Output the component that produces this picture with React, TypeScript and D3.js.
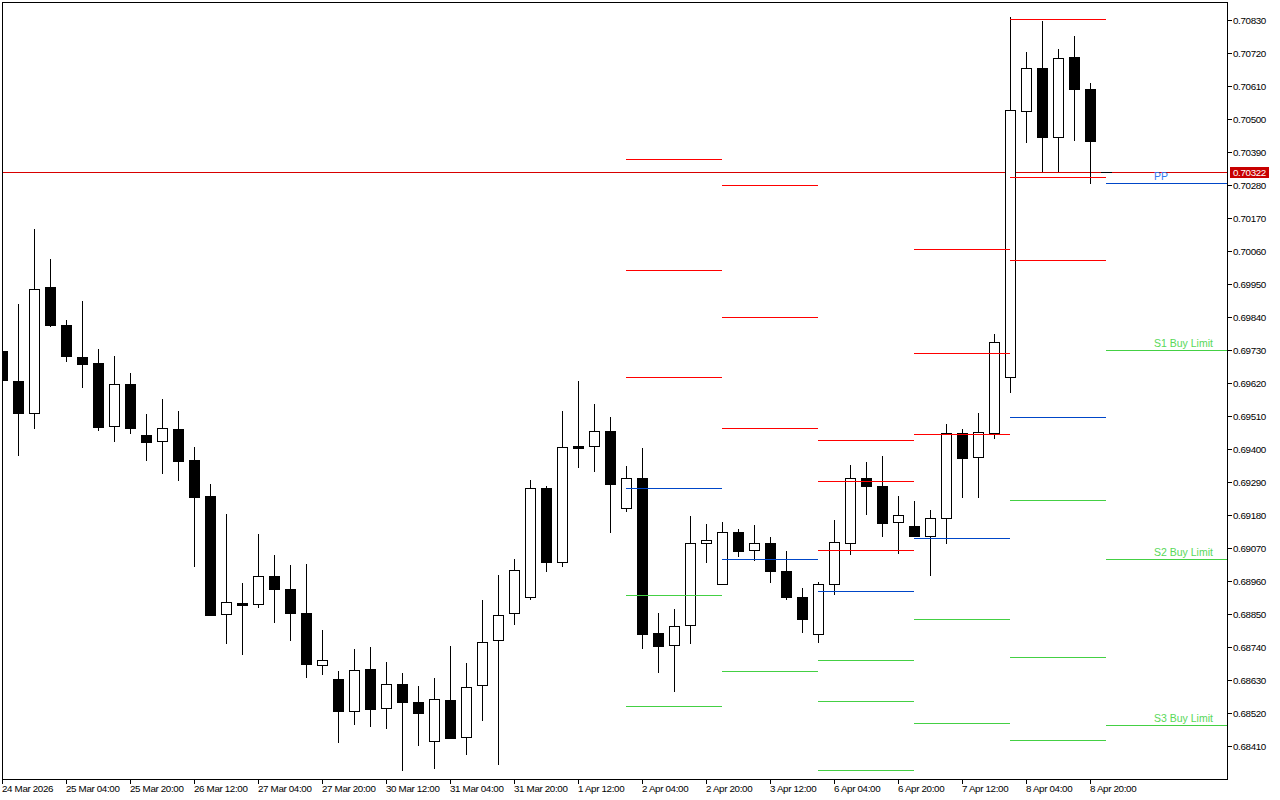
import { useEffect, useRef } from "react";
import * as d3 from "d3";

const opens = [
  0.69727, 0.69627, 0.69517, 0.6994, 0.69813, 0.69707, 0.69687, 0.69473, 0.69617, 0.69447,
  0.69423, 0.69467, 0.69363, 0.69243, 0.68847, 0.68887, 0.6888, 0.68977, 0.68933, 0.68853,
  0.68677, 0.68633, 0.68523, 0.68667, 0.68533, 0.68617, 0.68557, 0.68423, 0.68563, 0.68437,
  0.6861, 0.6876, 0.6885, 0.68903, 0.6927, 0.6902, 0.6941, 0.69407, 0.6946, 0.692,
  0.69303, 0.68787, 0.68743, 0.6881, 0.69083, 0.68947, 0.69123, 0.6906, 0.69087, 0.68993,
  0.68907, 0.6878, 0.68947, 0.69083, 0.69303, 0.69277, 0.69153, 0.69143, 0.69107, 0.69167,
  0.69453, 0.6937, 0.6945, 0.69637, 0.70523, 0.7067, 0.70437, 0.70707, 0.706, 0.70322,
];
const highs = [
  0.69763, 0.69883, 0.70133, 0.70033, 0.6983, 0.69893, 0.69733, 0.6971, 0.69653, 0.69517,
  0.69567, 0.69527, 0.69407, 0.69283, 0.69183, 0.68953, 0.69117, 0.69047, 0.69013, 0.69017,
  0.68797, 0.6866, 0.68733, 0.6874, 0.6869, 0.68653, 0.6861, 0.68637, 0.68743, 0.68687,
  0.68897, 0.6898, 0.69033, 0.69297, 0.69277, 0.69527, 0.69627, 0.6955, 0.69507, 0.69343,
  0.69403, 0.68853, 0.68867, 0.69177, 0.6915, 0.69157, 0.69133, 0.69147, 0.69107, 0.6906,
  0.68937, 0.68957, 0.69163, 0.69347, 0.69357, 0.69377, 0.69243, 0.69227, 0.69197, 0.69483,
  0.69467, 0.6952, 0.69783, 0.7084, 0.70723, 0.70827, 0.70733, 0.70777, 0.7062, 0.70322,
];
const lows = [
  0.6958, 0.69377, 0.69467, 0.69807, 0.6969, 0.69603, 0.6946, 0.69423, 0.6945, 0.6936,
  0.69317, 0.69293, 0.69007, 0.68843, 0.6875, 0.68713, 0.6887, 0.6882, 0.6876, 0.68637,
  0.68647, 0.6842, 0.6848, 0.68473, 0.68467, 0.68327, 0.6841, 0.68333, 0.68433, 0.6838,
  0.68493, 0.68347, 0.68813, 0.68897, 0.6899, 0.69007, 0.69337, 0.69323, 0.6912, 0.6919,
  0.68733, 0.68653, 0.6859, 0.6875, 0.6902, 0.68947, 0.6904, 0.69027, 0.68953, 0.68897,
  0.68787, 0.68753, 0.68913, 0.69047, 0.6918, 0.69107, 0.6905, 0.69107, 0.68977, 0.69083,
  0.69237, 0.69237, 0.69433, 0.69587, 0.7042, 0.70323, 0.70323, 0.70427, 0.70283, 0.70322,
];
const closes = [
  0.69627, 0.69517, 0.69933, 0.6981, 0.69707, 0.6968, 0.6947, 0.69617, 0.69467, 0.6942,
  0.6947, 0.69357, 0.69237, 0.68843, 0.6889, 0.68877, 0.68977, 0.6893, 0.6885, 0.6868,
  0.68697, 0.68523, 0.68663, 0.6853, 0.68617, 0.68553, 0.68517, 0.68567, 0.68433, 0.68607,
  0.68757, 0.68847, 0.68997, 0.6927, 0.6902, 0.69407, 0.694, 0.6946, 0.6928, 0.69303,
  0.6878, 0.6874, 0.6881, 0.69087, 0.69097, 0.69123, 0.69057, 0.69087, 0.6899, 0.68903,
  0.6883, 0.6895, 0.6909, 0.69303, 0.69273, 0.6915, 0.6918, 0.69107, 0.6917, 0.69453,
  0.69367, 0.69457, 0.69757, 0.7053, 0.7067, 0.70437, 0.70703, 0.70597, 0.70423, 0.70322,
];

// pivot levels, one entry per trading day
const dayStarts = [39, 45, 51, 57, 63, 69];
const r3 = [0.70367, 0.7028, 0.6943, 0.70067, 0.70833, null];
const r2 = [0.69997, 0.6984, 0.69293, 0.6972, 0.70307, null];
const r1 = [0.6964, 0.6947, 0.69063, 0.6945, 0.7003, null];
const pp = [0.6927, 0.69033, 0.68927, 0.69103, 0.69507, 0.70287];
const s1 = [0.68913, 0.6866, 0.68697, 0.68833, 0.6923, 0.6973];
const s2 = [0.68543, null, 0.6856, 0.68487, 0.68707, 0.69033];
const s3 = [null, null, 0.6833, null, 0.6843, 0.6848];

const bid = 0.70322;

const priceTicks = [
  0.7083, 0.7072, 0.7061, 0.705, 0.7039, 0.7028, 0.7017, 0.7006, 0.6995, 0.6984, 0.6973, 0.6962,
  0.6951, 0.694, 0.6929, 0.6918, 0.6907, 0.6896, 0.6885, 0.6874, 0.6863, 0.6852, 0.6841,
];
const timeTicks = [0, 4, 8, 12, 16, 20, 24, 28, 32, 36, 40, 44, 48, 52, 56, 60, 64, 68];
const timeLabels = [
  "24 Mar 2026", "25 Mar 04:00", "25 Mar 20:00", "26 Mar 12:00", "27 Mar 04:00", "27 Mar 20:00",
  "30 Mar 12:00", "31 Mar 04:00", "31 Mar 20:00", "1 Apr 12:00", "2 Apr 04:00", "2 Apr 20:00",
  "3 Apr 12:00", "6 Apr 04:00", "6 Apr 20:00", "7 Apr 12:00", "8 Apr 04:00", "8 Apr 20:00",
];

const lastDayLabels = [
  { text: "PP", level: pp[5], color: "#2f7bf0" },
  { text: "S1 Buy Limit", level: s1[5], color: "#58d858" },
  { text: "S2 Buy Limit", level: s2[5], color: "#58d858" },
  { text: "S3 Buy Limit", level: s3[5], color: "#58d858" },
];

const RED = "#ff0000";
const BLUE = "#0046c8";
const GREEN = "#44d044";
const FONT = "'Liberation Sans', Arial, sans-serif";

const App = () => {
  const ref = useRef<SVGSVGElement>(null);

  useEffect(() => {
    if (!ref.current) return;

    const left = 2;
    const right = 1227;
    const top = 2;
    const bottom = 779;

    const svg = d3.select(ref.current);
    svg.selectAll("*").remove();

    const x = d3.scaleLinear().domain([0, 69]).range([2, 1106]);
    const y = d3.scaleLinear().domain([0.7083, 0.6841]).range([20, 746]);
    const row = (p: number) => Math.round(y(p));

    svg.append("clipPath").attr("id", "plot")
      .append("rect")
      .attr("x", left).attr("y", top)
      .attr("width", right - left).attr("height", bottom - top);

    const plot = svg.append("g").attr("clip-path", "url(#plot)");

    // bid line sits behind the candles
    plot.append("line")
      .attr("x1", left).attr("x2", right)
      .attr("y1", row(bid) + 0.5).attr("y2", row(bid) + 0.5)
      .attr("stroke", "#d80000")
      .attr("shape-rendering", "crispEdges");

    const candles = plot.selectAll("g.candle")
      .data(d3.range(opens.length))
      .join("g")
      .attr("class", "candle")
      .attr("shape-rendering", "crispEdges");

    candles.append("line")
      .attr("x1", i => x(i) + 0.5).attr("x2", i => x(i) + 0.5)
      .attr("y1", i => row(highs[i])).attr("y2", i => row(lows[i]))
      .attr("stroke", "#000");

    candles.append("rect")
      .each(function (i) {
        const rising = closes[i] > opens[i];
        const t = row(Math.max(opens[i], closes[i]));
        const b = row(Math.min(opens[i], closes[i]));
        const r = d3.select(this);
        if (rising) {
          r.attr("x", x(i) - 4.5).attr("y", t + 0.5)
            .attr("width", 10).attr("height", Math.max(b - t - 1, 1))
            .attr("fill", "#fff").attr("stroke", "#000");
        } else {
          r.attr("x", x(i) - 5).attr("y", t)
            .attr("width", 11).attr("height", Math.max(b - t, 1))
            .attr("fill", "#000");
        }
      });

    // pivot segments go over the candles
    const levelSets: [(number | null)[], string][] = [
      [r3, RED], [r2, RED], [r1, RED], [pp, BLUE], [s1, GREEN], [s2, GREEN], [s3, GREEN],
    ];
    levelSets.forEach(([levels, color]) => {
      levels.forEach((level, d) => {
        if (level === null) return;
        const x2 = d < dayStarts.length - 1 ? x(dayStarts[d + 1]) : right;
        plot.append("line")
          .attr("x1", x(dayStarts[d])).attr("x2", x2)
          .attr("y1", row(level) + 0.5).attr("y2", row(level) + 0.5)
          .attr("stroke", color)
          .attr("shape-rendering", "crispEdges");
      });
    });

    lastDayLabels.forEach(l => {
      plot.append("text")
        .attr("x", 1154)
        .attr("y", row(l.level as number) - 3)
        .attr("fill", l.color)
        .attr("font-family", FONT)
        .attr("font-size", 10.5)
        .text(l.text);
    });

    // frame
    svg.append("rect")
      .attr("x", left + 0.5).attr("y", top + 0.5)
      .attr("width", right - left).attr("height", bottom - top)
      .attr("fill", "none").attr("stroke", "#000")
      .attr("shape-rendering", "crispEdges");

    const yAxis = svg.append("g")
      .attr("transform", `translate(${right},0)`)
      .call(d3.axisRight(y).tickValues(priceTicks).tickFormat(d3.format(".5f") as any).tickSize(5).tickPadding(1));
    yAxis.select(".domain").remove();
    yAxis.selectAll("text").attr("dy", 3.5);

    const xAxis = svg.append("g")
      .attr("transform", `translate(0,${bottom})`)
      .call(d3.axisBottom(x).tickValues(timeTicks).tickFormat((_, i) => timeLabels[i]).tickSize(5));
    xAxis.select(".domain").remove();
    xAxis.selectAll("text")
      .attr("text-anchor", "start")
      .attr("x", -0.5)
      .attr("y", 13)
      .attr("dy", 0);

    [yAxis, xAxis].forEach(a => {
      a.attr("font-family", FONT).attr("font-size", 9.8).attr("letter-spacing", -0.35);
      a.selectAll("text").attr("fill", "#000");
      a.selectAll("line").attr("stroke", "#000").attr("shape-rendering", "crispEdges");
    });

    // current price tag
    svg.append("rect")
      .attr("x", 1230).attr("y", row(bid) - 5)
      .attr("width", 39).attr("height", 11)
      .attr("fill", "#c80000");
    svg.append("text")
      .attr("x", 1233).attr("y", row(bid) + 4)
      .attr("fill", "#fff")
      .attr("font-family", FONT).attr("font-size", 9.8).attr("letter-spacing", -0.35)
      .text(d3.format(".5f")(bid));
  }, []);

  return (
    <svg
      ref={ref}
      width={1280}
      height={800}
      style={{ position: "fixed", left: 0, top: 0, background: "#fff" }}
    />
  );
};

export default App;
